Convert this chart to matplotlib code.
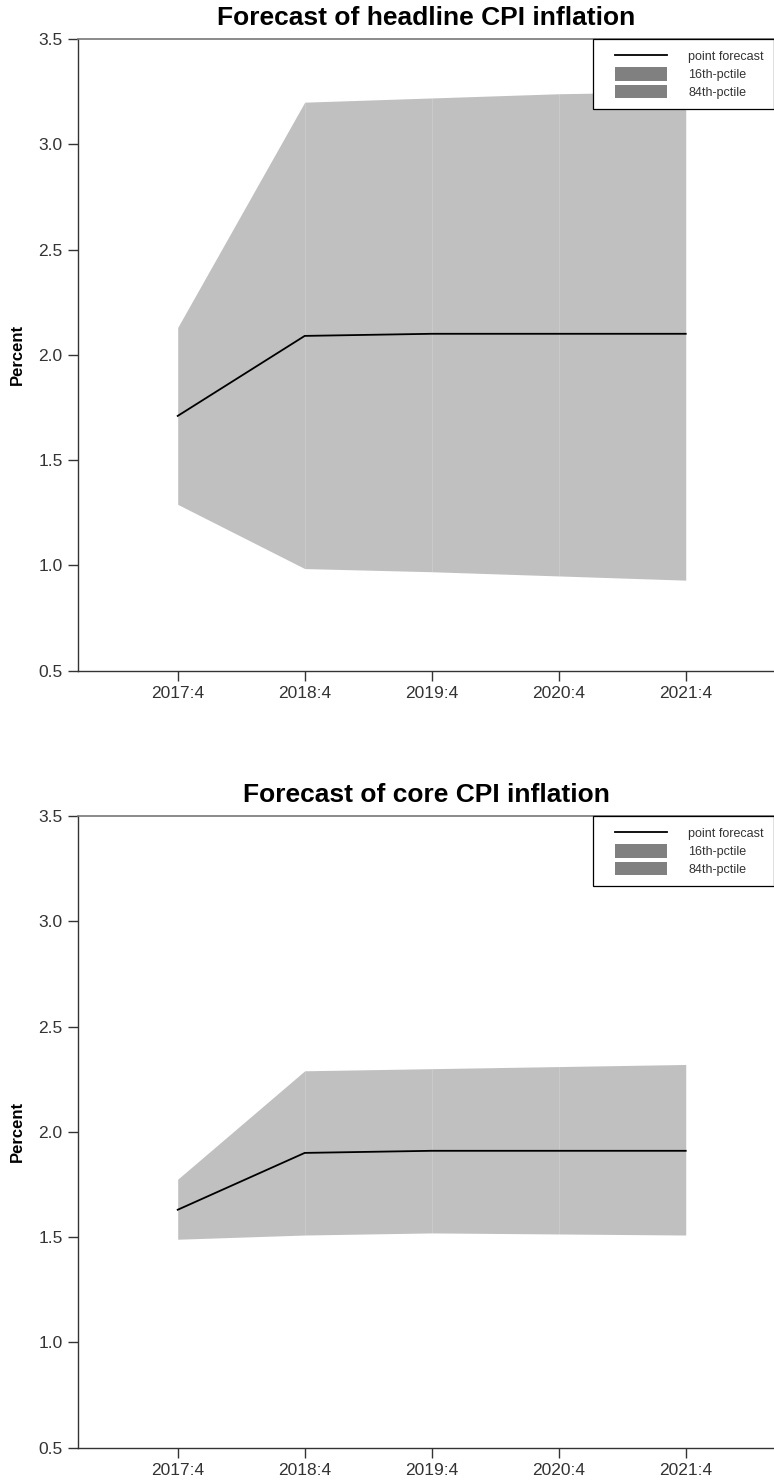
import matplotlib
matplotlib.use("Agg")
import matplotlib.pyplot as plt
from matplotlib.lines import Line2D
from matplotlib.patches import Patch
from matplotlib.legend_handler import HandlerLine2D, HandlerPatch

plt.rcParams['font.family'] = ['Liberation Sans', 'DejaVu Sans']

quarters = ['2017:4', '2018:4', '2019:4', '2020:4', '2021:4']

# headline CPI forecast bands
headline_point = [1.71, 2.09, 2.10, 2.10, 2.10]
headline_p16 = [1.29, 0.985, 0.97, 0.95, 0.93]
headline_p84 = [2.13, 3.20, 3.22, 3.24, 3.25]

# core CPI forecast bands
core_point = [1.63, 1.90, 1.91, 1.91, 1.91]
core_p16 = [1.49, 1.51, 1.52, 1.515, 1.51]
core_p84 = [1.775, 2.29, 2.30, 2.31, 2.32]

band_color = '#c0c0c0'
legend_patch = '#808080'
yticks = [0.5, 1.0, 1.5, 2.0, 2.5, 3.0, 3.5]


def forecast_panel(ax, title, point, lo, hi):
    x = list(range(len(quarters)))
    # one polygon per segment, as the original fan was built
    for i in range(len(x) - 1):
        ax.fill_between(x[i:i + 2], lo[i:i + 2], hi[i:i + 2],
                        color=band_color, linewidth=0)
    ax.plot(x, point, color='black', lw=1.3)

    ax.set_xlim(-0.785, 4.695)
    ax.set_ylim(0.5, 3.5)
    ax.set_xticks(x)
    ax.set_xticklabels(quarters)
    ax.set_yticks(yticks)
    ax.set_yticklabels(['%.1f' % v for v in yticks])
    ax.tick_params(direction='out', length=7, width=1, colors='#333333',
                   labelsize=12.5, pad=4)
    ax.spines['right'].set_visible(False)
    ax.spines['top'].set_color('#777777')
    ax.spines['top'].set_linewidth(1.2)
    for s in ['left', 'bottom']:
        ax.spines[s].set_color('#333333')
        ax.spines[s].set_linewidth(1)
    ax.set_title(title, fontsize=19, fontweight='bold', pad=10)
    ax.set_ylabel('Percent', fontsize=12, fontweight='bold', labelpad=10)

    handles = [Line2D([], [], color='black', lw=1.3),
               Patch(facecolor=legend_patch, edgecolor='none'),
               Patch(facecolor=legend_patch, edgecolor='none')]
    # extra left padding in front of the legend keys
    hmap = {Line2D: HandlerLine2D(xpad=1.0),
            Patch: HandlerPatch(xpad=1.0)}
    leg = ax.legend(handles, ['point forecast', '16th-pctile', '84th-pctile'],
                    handler_map=hmap,
                    loc='upper right', bbox_to_anchor=(1.0, 1.0),
                    borderaxespad=0, fontsize=9, handlelength=5.16,
                    handleheight=1.32, labelspacing=0.3, handletextpad=1.68,
                    borderpad=0.8, fancybox=False, framealpha=1)
    leg.get_frame().set_edgecolor('black')
    leg.get_frame().set_linewidth(0.9)
    for t in leg.get_texts():
        t.set_color('#333333')


fig = plt.figure(figsize=(7.74, 14.8), dpi=100)
W, H = 774.0, 1480.0
left = 78 / W
ax1 = fig.add_axes([left, 1 - 670.7 / H, 1 - left, 631.7 / H])
ax2 = fig.add_axes([left, 1 - 1447.7 / H, 1 - left, 631.7 / H])

forecast_panel(ax1, 'Forecast of headline CPI inflation',
               headline_point, headline_p16, headline_p84)
forecast_panel(ax2, 'Forecast of core CPI inflation',
               core_point, core_p16, core_p84)

fig.savefig('out.png', dpi=100)
